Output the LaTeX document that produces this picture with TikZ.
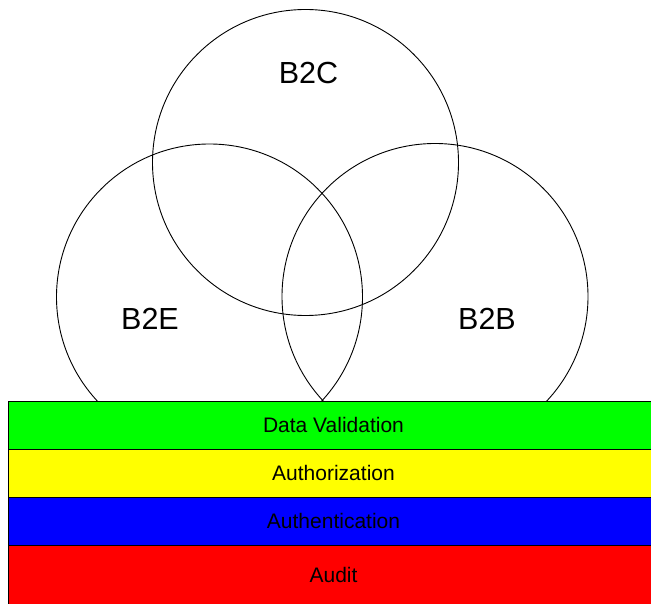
\documentclass[tikz,border=0pt]{standalone}
\usepackage{fontspec}
\setmainfont{Liberation Sans}
\begin{document}
\begin{tikzpicture}[x=1pt,y=-1pt,
  venn/.style={draw=black,line width=0.9pt},
  layer/.style={draw=black,line width=1pt},
  big/.style={font=\fontsize{30.5}{33}\selectfont,inner sep=0pt},
  small/.style={font=\fontsize{21}{24}\selectfont,inner sep=0pt}]
\useasboundingbox (0,0) rectangle (651,604);
\clip (0,0) rectangle (651,604);
\fill[white] (0,0) rectangle (651,604);
% circles
\draw[venn] (305.5,162.5) circle[radius=153];
\draw[venn] (209.5,297) circle[radius=153];
\draw[venn] (435,296.5) circle[radius=153];
\node[big] (b2c) at (308.5,73) {B2C};
\node[big] (b2e) at (150,319) {B2E};
\node[big] (b2b) at (487,319) {B2B};
% layers
\draw[layer,fill={rgb,255:red,0;green,255;blue,0}] (8,401) rectangle (660,449.5);
\draw[layer,fill={rgb,255:red,255;green,255;blue,0}] (8,449.5) rectangle (660,497);
\draw[layer,fill={rgb,255:red,0;green,0;blue,255}] (8,497) rectangle (660,545);
\draw[layer,fill={rgb,255:red,255;green,0;blue,0}] (8,545) rectangle (660,625);
\node[small] (dv) at (333.5,425) {Data Validation};
\node[small] (az) at (333.5,473) {Authorization};
\node[small] (an) at (333.5,521) {Authentication};
\node[small] (au) at (333.5,575) {Audit};
\end{tikzpicture}
\end{document}
